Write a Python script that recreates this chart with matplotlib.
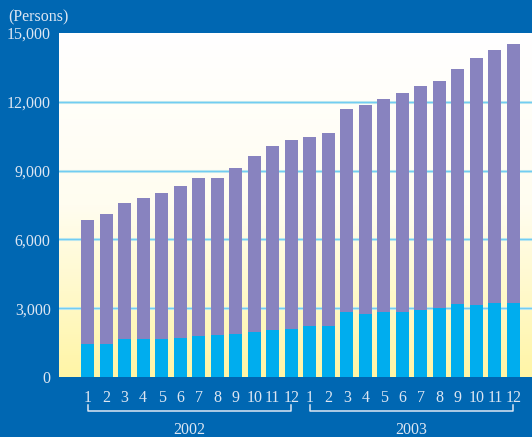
import matplotlib.pyplot as plt
import matplotlib.transforms as mtransforms
from matplotlib.colors import LinearSegmentedColormap
import numpy as np

# monthly headcount, Jan 2002 - Dec 2003
months = [str(m) for m in range(1, 13)] * 2
years = ["2002", "2003"]
total = [6850, 7100, 7580, 7800, 8020, 8320, 8670, 8670, 9110, 9630, 10060, 10320,
         10450, 10630, 11670, 11840, 12110, 12370, 12670, 12890, 13450, 13890, 14280, 14500]
lower = [1450, 1450, 1650, 1650, 1650, 1710, 1800, 1830, 1890, 1970, 2060, 2090,
         2230, 2230, 2840, 2750, 2840, 2840, 2930, 3020, 3190, 3130, 3220, 3220]
yticks = [0, 3000, 6000, 9000, 12000, 15000]

total = np.array(total)
lower = np.array(lower)
upper = total - lower

blue = "#0067b2"
cyan = "#00adee"
purple = "#8883bf"
txt = "#dde6f2"

plt.rcParams["font.family"] = ["Liberation Serif", "DejaVu Serif"]

fig = plt.figure(figsize=(5.32, 4.37), dpi=100)
fig.patch.set_facecolor(blue)
ax = fig.add_axes([59 / 532, 60 / 437, 473 / 532, 344 / 437])

x = np.arange(len(total))
ax.set_xlim(-1.54, 24.0)
ax.set_ylim(0, 15000)

# background gradient: white at the top fading to pale yellow
cmap = LinearSegmentedColormap.from_list("bg", ["#fff5a6", "#fffdf0", "#ffffff"])
grad = np.linspace(0, 1, 256).reshape(-1, 1)
ax.imshow(grad, cmap=cmap, aspect="auto", origin="lower",
          extent=[-1.54, 24.0, 0, 15000], zorder=0)

for v in yticks[1:-1]:
    ax.axhline(v, color="#c4e9ee", lw=2.2, zorder=1)
    ax.axhline(v, color="#72cdf2", lw=0.9, zorder=1)

ax.bar(x, lower, width=0.7, color=cyan, zorder=2)
ax.bar(x, upper, width=0.7, bottom=lower, color=purple, zorder=2)

for s in ax.spines.values():
    s.set_visible(False)

ax.set_yticks(yticks)
ax.set_yticklabels([f"{v:,}" for v in yticks])
ax.set_xticks(x)
ax.set_xticklabels(months)
ax.tick_params(length=0, colors=txt, labelsize=11.5)
ax.tick_params(axis="y", pad=6)
ax.tick_params(axis="x", pad=9)

# year brackets under the month labels
trans = mtransforms.blended_transform_factory(ax.transData, ax.transAxes)
for i, yr in enumerate(years):
    x0, x1 = x[i * 12], x[i * 12 + 11]
    ax.plot([x0, x0, x1, x1], [-0.081, -0.099, -0.099, -0.081], color=txt,
            lw=1.1, transform=trans, clip_on=False)
    ax.text((x0 + x1) / 2, -0.154, yr, color=txt, fontsize=11.5,
            ha="center", va="center", transform=trans)

fig.text(8 / 532, 1 - 17 / 437, "(Persons)", color=txt, fontsize=11.5,
         ha="left", va="center")

fig.savefig("out.png", dpi=100, facecolor=fig.get_facecolor())
